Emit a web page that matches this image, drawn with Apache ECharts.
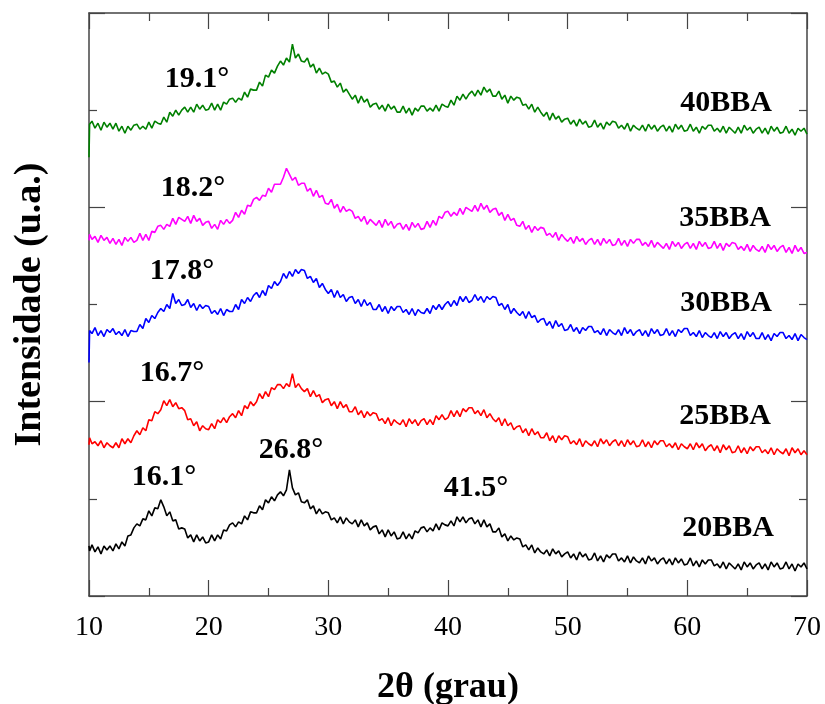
<!DOCTYPE html>
<html>
<head>
<meta charset="utf-8">
<title>DRX BBA</title>
<script src="https://cdn.jsdelivr.net/npm/echarts/dist/echarts.min.js"></script>
<style>
  html, body { margin: 0; padding: 0; background: #fff; }
  #main { width: 825px; height: 704px; }
</style>
</head>
<body>
<div id="main"></div>
<script>
// 2θ (graus) - passo de 0.25 grau
var angulos = [
  10, 10.05, 10.25, 10.5, 10.75, 11, 11.25, 11.5, 11.75,
  12, 12.25, 12.5, 12.75, 13, 13.25, 13.5, 13.75,
  14, 14.25, 14.5, 14.75, 15, 15.25, 15.5, 15.75,
  16, 16.25, 16.5, 16.75, 17, 17.25, 17.5, 17.75,
  18, 18.25, 18.5, 18.75, 19, 19.25, 19.5, 19.75,
  20, 20.25, 20.5, 20.75, 21, 21.25, 21.5, 21.75,
  22, 22.25, 22.5, 22.75, 23, 23.25, 23.5, 23.75,
  24, 24.25, 24.5, 24.75, 25, 25.25, 25.5, 25.75,
  26, 26.25, 26.5, 26.75, 27, 27.25, 27.5, 27.75,
  28, 28.25, 28.5, 28.75, 29, 29.25, 29.5, 29.75,
  30, 30.25, 30.5, 30.75, 31, 31.25, 31.5, 31.75,
  32, 32.25, 32.5, 32.75, 33, 33.25, 33.5, 33.75,
  34, 34.25, 34.5, 34.75, 35, 35.25, 35.5, 35.75,
  36, 36.25, 36.5, 36.75, 37, 37.25, 37.5, 37.75,
  38, 38.25, 38.5, 38.75, 39, 39.25, 39.5, 39.75,
  40, 40.25, 40.5, 40.75, 41, 41.25, 41.5, 41.75,
  42, 42.25, 42.5, 42.75, 43, 43.25, 43.5, 43.75,
  44, 44.25, 44.5, 44.75, 45, 45.25, 45.5, 45.75,
  46, 46.25, 46.5, 46.75, 47, 47.25, 47.5, 47.75,
  48, 48.25, 48.5, 48.75, 49, 49.25, 49.5, 49.75,
  50, 50.25, 50.5, 50.75, 51, 51.25, 51.5, 51.75,
  52, 52.25, 52.5, 52.75, 53, 53.25, 53.5, 53.75,
  54, 54.25, 54.5, 54.75, 55, 55.25, 55.5, 55.75,
  56, 56.25, 56.5, 56.75, 57, 57.25, 57.5, 57.75,
  58, 58.25, 58.5, 58.75, 59, 59.25, 59.5, 59.75,
  60, 60.25, 60.5, 60.75, 61, 61.25, 61.5, 61.75,
  62, 62.25, 62.5, 62.75, 63, 63.25, 63.5, 63.75,
  64, 64.25, 64.5, 64.75, 65, 65.25, 65.5, 65.75,
  66, 66.25, 66.5, 66.75, 67, 67.25, 67.5, 67.75,
  68, 68.25, 68.5, 68.75, 69, 69.25, 69.5, 69.75,
  70
];

// intensidades (u.a.), curvas ja deslocadas verticalmente
var bba20 = [
  50, 45, 51, 44, 49, 42, 50, 46, 50,
  45, 52, 47, 54, 50, 60, 61, 68,
  72, 70, 77, 76, 85, 80, 88, 87,
  96, 89, 80, 84, 75, 76, 67, 68,
  67, 58, 61, 54, 61, 55, 59, 53,
  54, 61, 55, 61, 57, 66, 65, 71,
  73, 69, 74, 72, 80, 76, 84, 83,
  83, 90, 86, 96, 93, 99, 95, 101,
  104, 100, 106, 126, 108, 101, 103, 94,
  93, 96, 87, 90, 82, 87, 82, 84,
  83, 76, 78, 73, 79, 72, 78, 74,
  72, 76, 69, 76, 70, 73, 66, 69,
  70, 62, 66, 59, 66, 60, 64, 57,
  58, 64, 57, 62, 57, 65, 63, 68,
  69, 64, 68, 65, 72, 66, 73, 71,
  70, 75, 70, 79, 74, 79, 73, 77,
  78, 72, 76, 69, 76, 69, 72, 64,
  64, 68, 59, 62, 55, 60, 56, 58,
  57, 49, 51, 46, 51, 43, 48, 44,
  42, 46, 40, 47, 42, 45, 39, 42,
  44, 38, 42, 36, 44, 39, 42, 36,
  37, 43, 35, 40, 34, 41, 38, 42,
  42, 35, 38, 34, 40, 33, 39, 35,
  33, 38, 32, 40, 35, 38, 32, 36,
  38, 32, 37, 31, 38, 33, 37, 31,
  32, 38, 30, 35, 29, 36, 32, 36,
  36, 30, 32, 28, 34, 27, 33, 30,
  27, 32, 26, 34, 29, 33, 27, 31,
  33, 27, 32, 26, 34, 29, 33, 27,
  28, 34, 27, 32, 25, 32, 29, 33,
  27
];
var bba25 = [
  151, 158, 152, 154, 150, 155, 148, 153, 150,
  148, 153, 148, 157, 152, 157, 153, 160,
  165, 161, 168, 165, 176, 175, 184, 182,
  186, 195, 190, 196, 189, 193, 187, 188,
  185, 176, 177, 170, 174, 165, 170, 167,
  166, 172, 167, 176, 173, 178, 173, 179,
  182, 178, 185, 180, 190, 187, 194, 190,
  194, 202, 197, 204, 199, 208, 206, 211,
  211, 207, 212, 209, 222, 208, 212, 207,
  204, 207, 199, 205, 199, 201, 193, 196,
  197, 190, 194, 187, 194, 188, 191, 184,
  184, 189, 181, 185, 178, 184, 180, 183,
  182, 175, 177, 172, 178, 170, 176, 173,
  171, 176, 169, 177, 172, 176, 170, 175,
  177, 171, 176, 171, 180, 176, 181, 176,
  178, 185, 179, 185, 179, 187, 184, 188,
  188, 182, 185, 180, 186, 178, 182, 177,
  174, 178, 170, 177, 170, 173, 166, 169,
  170, 163, 167, 160, 167, 161, 164, 158,
  158, 163, 155, 160, 153, 160, 156, 160,
  159, 152, 155, 151, 157, 149, 155, 152,
  150, 155, 149, 157, 152, 156, 150, 154,
  156, 150, 155, 149, 156, 151, 155, 149,
  150, 156, 149, 154, 148, 155, 151, 155,
  155, 149, 152, 148, 153, 146, 152, 149,
  147, 152, 146, 153, 148, 152, 145, 149,
  151, 145, 150, 143, 151, 146, 150, 143,
  144, 150, 143, 148, 142, 149, 145, 149,
  149, 143, 146, 142, 148, 141, 147, 144,
  142, 147, 140, 148, 143, 147, 141, 145,
  141
];
var bba30 = [
  233, 265, 262, 268, 260, 265, 259, 266, 263,
  267, 261, 264, 260, 266, 259, 265, 264,
  264, 271, 267, 277, 273, 280, 277, 283,
  287, 284, 291, 287, 302, 292, 296, 290,
  291, 296, 288, 292, 285, 291, 287, 290,
  289, 282, 285, 281, 287, 280, 286, 284,
  284, 291, 286, 296, 292, 298, 294, 300,
  303, 298, 305, 300, 310, 307, 314, 310,
  314, 322, 317, 324, 319, 326, 322, 326,
  325, 317, 319, 313, 317, 308, 312, 306,
  302, 306, 298, 305, 298, 301, 294, 298,
  299, 292, 296, 289, 296, 290, 293, 286,
  286, 291, 284, 289, 282, 289, 285, 289,
  289, 283, 286, 281, 287, 280, 286, 283,
  282, 287, 282, 290, 286, 291, 286, 291,
  294, 289, 295, 290, 299, 294, 299, 293,
  295, 301, 295, 299, 293, 299, 296, 299,
  298, 290, 292, 286, 291, 282, 287, 283,
  280, 284, 277, 284, 278, 280, 273, 276,
  277, 270, 274, 267, 275, 269, 272, 265,
  266, 271, 264, 268, 262, 268, 265, 269,
  269, 263, 265, 261, 267, 260, 266, 263,
  261, 266, 260, 268, 262, 266, 260, 264,
  266, 260, 265, 259, 267, 262, 266, 260,
  261, 267, 260, 265, 259, 266, 263, 267,
  267, 260, 263, 259, 265, 258, 263, 260,
  258, 263, 257, 264, 259, 263, 257, 261,
  263, 257, 262, 256, 264, 259, 263, 257,
  257, 263, 256, 261, 255, 262, 259, 263,
  263, 257, 260, 256, 262, 255, 261, 258,
  256
];
var bba35 = [
  355, 361, 356, 359, 353, 360, 355, 358, 352,
  357, 351, 356, 350, 358, 354, 358, 353,
  355, 362, 355, 361, 355, 364, 363, 369,
  370, 366, 371, 369, 377, 371, 378, 376,
  374, 379, 372, 380, 374, 377, 370, 373,
  374, 367, 371, 366, 375, 371, 376, 372,
  375, 383, 378, 385, 381, 390, 389, 396,
  398, 395, 400, 399, 407, 403, 411, 411,
  411, 418, 427, 421, 415, 418, 410, 412,
  412, 404, 407, 399, 405, 398, 400, 392,
  391, 396, 387, 391, 383, 389, 384, 386,
  384, 377, 379, 374, 379, 371, 376, 373,
  370, 375, 368, 376, 370, 374, 367, 371,
  372, 366, 371, 365, 373, 368, 372, 366,
  367, 374, 368, 375, 370, 379, 377, 383,
  384, 379, 383, 380, 387, 381, 388, 386,
  384, 390, 384, 392, 386, 390, 383, 386,
  387, 380, 383, 375, 381, 375, 377, 370,
  369, 374, 366, 370, 363, 369, 365, 368,
  367, 360, 362, 358, 363, 355, 361, 357,
  354, 358, 352, 359, 354, 357, 351, 355,
  357, 351, 356, 350, 357, 352, 356, 350,
  351, 357, 350, 355, 349, 356, 352, 356,
  356, 350, 353, 349, 355, 348, 353, 350,
  347, 352, 346, 354, 349, 353, 347, 351,
  353, 347, 352, 346, 354, 349, 353, 347,
  348, 354, 347, 352, 345, 352, 349, 353,
  352, 346, 349, 345, 351, 344, 350, 346,
  344, 349, 343, 351, 346, 350, 344, 348,
  350, 343, 348, 342, 350, 344, 348, 342,
  343
];
var bba40 = [
  438, 471, 474, 467, 472, 465, 473, 468, 472,
  466, 472, 464, 469, 462, 469, 465, 470,
  471, 466, 469, 466, 473, 467, 474, 472,
  471, 478, 473, 483, 479, 485, 480, 485,
  488, 483, 488, 483, 491, 486, 490, 485,
  486, 492, 485, 491, 485, 493, 491, 496,
  497, 493, 497, 495, 503, 498, 506, 505,
  505, 513, 509, 520, 518, 525, 522, 529,
  534, 530, 537, 533, 551, 537, 541, 534,
  533, 537, 528, 531, 522, 527, 521, 523,
  521, 513, 514, 508, 512, 503, 506, 501,
  496, 500, 492, 499, 493, 496, 488, 491,
  492, 486, 490, 484, 491, 486, 489, 483,
  483, 489, 482, 487, 480, 487, 484, 489,
  489, 484, 487, 484, 490, 484, 491, 489,
  488, 495, 490, 499, 495, 501, 496, 501,
  504, 499, 505, 500, 508, 503, 506, 499,
  499, 504, 496, 500, 492, 499, 495, 498,
  497, 490, 491, 486, 491, 483, 488, 483,
  479, 483, 475, 482, 476, 479, 473, 476,
  477, 471, 475, 469, 476, 471, 474, 468,
  469, 475, 468, 472, 466, 473, 470, 474,
  473, 467, 470, 466, 472, 464, 470, 467,
  465, 470, 464, 471, 466, 470, 464, 468,
  470, 464, 469, 463, 471, 466, 470, 464,
  465, 471, 464, 468, 462, 469, 466, 470,
  470, 464, 467, 463, 469, 462, 468, 465,
  462, 468, 462, 470, 465, 468, 462, 466,
  468, 462, 467, 461, 469, 464, 468, 462,
  463, 469, 462, 466, 460, 467, 464, 467,
  461
];

var nomes = ['20BBA', '25BBA', '30BBA', '35BBA', '40BBA'];
var cores = ['#000000', '#ff0000', '#0000ff', '#ff00ff', '#008000'];
var curvas = [bba20, bba25, bba30, bba35, bba40];

// rotulos dos picos e das amostras
var picos = ['16.1°', '26.8°', '41.5°', '16.7°', '17.8°', '18.2°', '19.1°'];
var picosPos = [[164, 477], [291, 450], [476, 488], [172, 373], [182, 271], [193, 188], [197, 79]];
var rotulosPos = [[728, 528], [725, 416], [726, 303], [725, 218], [726, 103]];

var fonte = '"Liberation Serif", "Times New Roman", serif';

function eixo(extra) {
  var base = {
    axisLine: { show: true, onZero: false, lineStyle: { color: '#444', width: 1.5 } },
    axisTick: { show: true, inside: true, length: 16, lineStyle: { color: '#444', width: 1.2 } },
    minorTick: { show: true, splitNumber: 2, length: 8, lineStyle: { color: '#444', width: 1.2 } },
    splitLine: { show: false },
    minorSplitLine: { show: false }
  };
  for (var k in extra) base[k] = extra[k];
  return base;
}

var series = [];
for (var i = 0; i < curvas.length; i++) {
  var pts = [];
  for (var j = 0; j < angulos.length; j++) {
    pts.push([angulos[j], curvas[i][j]]);
  }
  series.push({
    name: nomes[i],
    type: 'line',
    data: pts,
    showSymbol: false,
    symbol: 'none',
    lineStyle: { color: cores[i], width: 1.6 },
    itemStyle: { color: cores[i] },
    z: 2 + i
  });
}

var textos = [];
for (var p = 0; p < picos.length; p++) {
  textos.push({
    type: 'text', x: picosPos[p][0], y: picosPos[p][1], z: 100,
    style: { text: picos[p], fill: '#000', font: 'bold 30px ' + fonte, textAlign: 'center', textVerticalAlign: 'middle' }
  });
}
for (var r = 0; r < nomes.length; r++) {
  textos.push({
    type: 'text', x: rotulosPos[r][0], y: rotulosPos[r][1], z: 100,
    style: { text: nomes[r], fill: '#000', font: 'bold 30px ' + fonte, textAlign: 'center', textVerticalAlign: 'middle' }
  });
}

var myChart = echarts.init(document.getElementById('main'));
var option = {
  animation: false,
  backgroundColor: '#fff',
  grid: { left: 89, top: 13, right: 18, bottom: 108, containLabel: false, outerBoundsMode: 'none' },
  xAxis: [
    eixo({
      type: 'value', min: 10, max: 70, interval: 10, position: 'bottom',
      name: '2θ (grau)', nameLocation: 'middle', nameGap: 74,
      nameTextStyle: { fontFamily: fonte, fontWeight: 'bold', fontSize: 36, color: '#000' },
      axisLabel: { show: true, margin: 18, fontFamily: fonte, fontSize: 28, color: '#000' }
    }),
    eixo({ type: 'value', min: 10, max: 70, interval: 10, position: 'top', axisLabel: { show: false } })
  ],
  yAxis: [
    eixo({
      type: 'value', min: 0, max: 582, interval: 194, position: 'left',
      name: 'Intensidade (u.a.)', nameLocation: 'middle', nameGap: 40, nameRotate: 90,
      nameTextStyle: { fontFamily: fonte, fontWeight: 'bold', fontSize: 38, color: '#000' },
      axisLabel: { show: false }
    }),
    eixo({ type: 'value', min: 0, max: 582, interval: 194, position: 'right', axisLabel: { show: false } })
  ],
  series: series,
  graphic: textos
};
myChart.setOption(option);
</script>
</body>
</html>
